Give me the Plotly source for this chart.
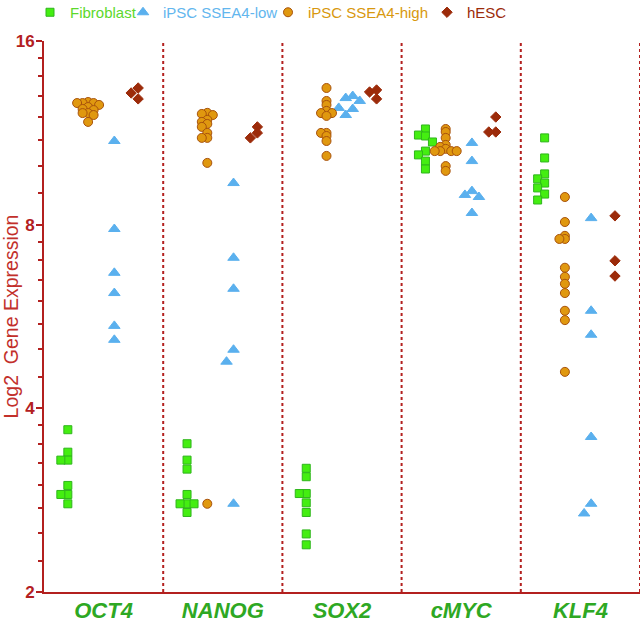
import plotly.graph_objects as go
import math

# ---------------- data ----------------
genes = ["OCT4", "NANOG", "SOX2", "cMYC", "KLF4"]
groups = ["Fibroblast", "iPSC SSEA4-low", "iPSC SSEA4-high", "hESC"]

fibroblast = [
    [3.69, 3.39, 3.29, 3.29, 2.99, 2.89, 2.89, 2.79],
    [3.50, 3.29, 3.18, 2.89, 2.79, 2.79, 2.79, 2.70],
    [3.19, 3.09, 2.90, 2.90, 2.80, 2.70, 2.49, 2.39],
    [11.48, 11.22, 11.18, 10.93, 10.56, 10.41, 10.17, 9.87],
    [11.10, 10.29, 9.69, 9.51, 9.36, 9.19, 8.98, 8.78],
]
ipsc_low = [
    [10.97, 7.87, 6.67, 6.18, 5.46, 5.18],
    [9.36, 7.06, 6.28, 4.99, 4.77, 2.79],
    [13.00, 12.90, 12.76, 12.43, 12.38, 12.10],
    [10.89, 10.17, 9.08, 8.95, 8.88, 8.36],
    [8.20, 5.78, 5.28, 3.59, 2.79, 2.69],
]
ipsc_high = [
    [12.71, 12.66, 12.66, 12.66, 12.57, 12.47, 12.38, 12.33, 12.19, 12.19, 12.10, 11.79],
    [12.20, 12.15, 12.10, 11.88, 11.79, 11.70, 11.57, 11.31, 11.10, 11.10, 10.10, 2.79],
    [13.40, 12.76, 12.57, 12.29, 12.19, 12.19, 12.06, 11.31, 11.31, 11.18, 10.97, 10.37],
    [11.48, 11.35, 11.10, 10.81, 10.73, 10.65, 10.56, 10.56, 10.56, 10.56, 9.98, 9.80],
    [8.88, 8.08, 7.67, 7.58, 7.58, 6.80, 6.57, 6.40, 6.18, 5.78, 5.58, 4.59],
]
hesc = [
    [13.40, 13.15, 12.86],
    [11.57, 11.31, 11.10],
    [13.30, 13.20, 12.86],
    [12.01, 11.35, 11.35],
    [8.27, 6.98, 6.59],
]
y_tickvals = [2, 4, 8, 16]
y_minor = [2.25, 2.5, 2.75, 3, 3.25, 3.5, 3.75, 4.5, 5, 5.5, 6, 6.5, 7, 7.5,
           9, 10, 11, 12, 13, 14, 15]

# ---------------- layout / style ----------------
W, H = 640, 627
ML, MR, MT, MB = 44, 0, 41, 35
plot_w = W - ML - MR
plot_h = H - MT - MB
x_range = [-0.5, 4.5]
px_per_cat = plot_w / (x_range[1] - x_range[0])
px_per_oct = plot_h / 3.0

AX = "#b3201f"
styles = {
    "Fibroblast": dict(symbol="square", size=8, color="#44ee11", line="#2fb51c", text="#5cd82c",
                       offset=-0.30, ythr=7.0, step=7.0),
    "iPSC SSEA4-low": dict(symbol="triangle-up", size=10, color="#5ab0ee", line="#5ab0ee", text="#62b6ee",
                           offset=0.09, ythr=12.5, step=7.0),
    "iPSC SSEA4-high": dict(symbol="circle", size=9, color="#e0980f", line="#a8520c", text="#d8980e",
                            offset=-0.13, ythr=3.0, step=5.5),
    "hESC": dict(symbol="diamond", size=8, color="#9c2b0a", line="#9c2b0a", text="#9c2b0a",
                 offset=0.29, ythr=6.0, step=7.0),
}
legend_w = {"Fibroblast": 48, "iPSC SSEA4-low": 100, "iPSC SSEA4-high": 114, "hESC": 40}


def swarm(values, ythr, step):
    """Column beeswarm in pixel space; returns x offsets in category units."""
    placed = []
    offs = []
    for v in values:
        y = px_per_oct * math.log2(v)
        for k in [0, -1, 1, -2, 2, -3, 3, -4, 4]:
            if all(not (pk == k and abs(py - y) < ythr) for pk, py in placed):
                break
        placed.append((k, y))
        offs.append(k * step / px_per_cat)
    return offs


series = {
    "Fibroblast": fibroblast,
    "iPSC SSEA4-low": ipsc_low,
    "iPSC SSEA4-high": ipsc_high,
    "hESC": hesc,
}

fig = go.Figure()
for name in groups:
    st = styles[name]
    xs, ys = [], []
    for gi, vals in enumerate(series[name]):
        offs = swarm(vals, st["ythr"], st["step"])
        for v, o in zip(vals, offs):
            xs.append(gi + st["offset"] + o)
            ys.append(v)
    fig.add_trace(go.Scatter(
        x=xs, y=ys, mode="markers",
        name=f'<span style="color:{st["text"]}">{name}</span>',
        legendwidth=legend_w[name],
        marker=dict(symbol=st["symbol"], size=st["size"], color=st["color"],
                    line=dict(color=st["line"], width=1)),
        cliponaxis=False,
    ))

# category dividers
for i in range(len(genes)):
    fig.add_shape(type="line", xref="x", yref="paper", x0=i + 0.5, x1=i + 0.5, y0=0, y1=1,
                  line=dict(color=AX, width=2, dash="dot"), layer="below")

fig.update_layout(
    width=W, height=H,
    margin=dict(l=ML, r=MR, t=MT, b=MB, autoexpand=False),
    paper_bgcolor="white", plot_bgcolor="white",
    font=dict(family="Liberation Sans, Arial, sans-serif"),
    showlegend=True,
    legend=dict(orientation="h", x=(30 - ML) / plot_w, xanchor="left",
                y=1 + (MT + 4) / plot_h, yanchor="top",
                font=dict(size=15), itemsizing="trace", bgcolor="rgba(0,0,0,0)",
                tracegroupgap=0),
    xaxis=dict(range=x_range, tickmode="array", tickvals=list(range(len(genes))),
               ticktext=genes, showgrid=False, zeroline=False, automargin=False,
               showline=True, linecolor=AX, linewidth=2, ticks="",
               tickfont=dict(size=22, color="#2ea823", weight="bold", style="italic"),
               ticklabelstandoff=-2),
    yaxis=dict(type="log", range=[math.log10(2), math.log10(16)], automargin=False,
               tickmode="array", tickvals=y_tickvals, ticktext=[str(v) for v in y_tickvals],
               showgrid=False, zeroline=False, showline=True, linecolor=AX, linewidth=2,
               ticks="outside", ticklen=6, tickwidth=2, tickcolor=AX,
               tickfont=dict(size=17, color=AX, weight="bold"), ticklabelstandoff=-2,
               minor=dict(tickvals=y_minor, ticks="outside", ticklen=4, tickwidth=2,
                          tickcolor=AX, showgrid=False),
               title=dict(text="Log2&nbsp;&nbsp;Gene Expression",
                          font=dict(size=19.5, color="#c2302b"), standoff=3)),
)

# remove the browser's default 8px page margin so the figure sits at the corner
fig.write_html("out.html", config={"displayModeBar": False},
               post_script="document.body.style.margin='0';")
